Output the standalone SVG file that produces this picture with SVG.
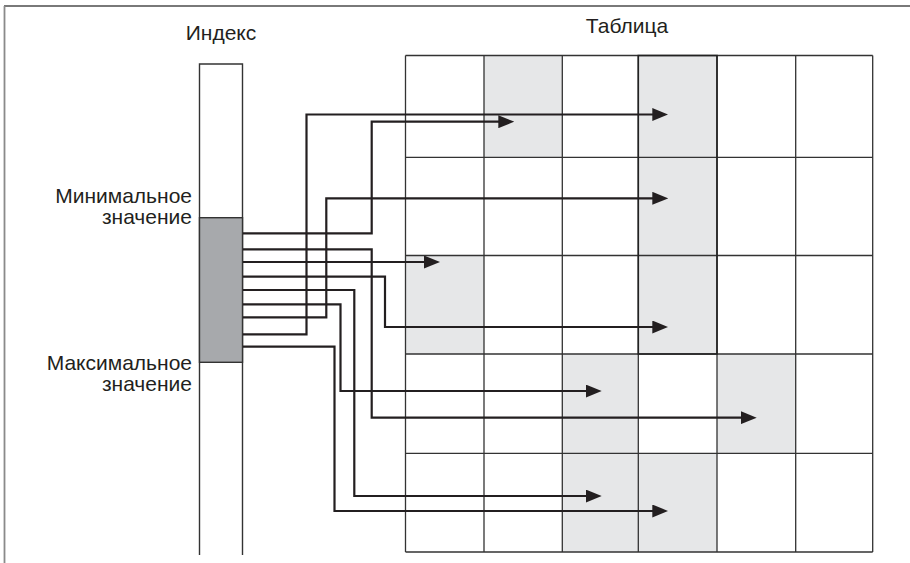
<svg xmlns="http://www.w3.org/2000/svg" width="910" height="563" viewBox="0 0 910 563">
<style>
text{font-family:"Liberation Sans",Arial,sans-serif;font-size:21px;fill:#231f20}
.grid{stroke:#333;stroke-width:1.3;fill:none}
.shade{fill:#e6e7e8}
.conn{fill:none;stroke:#231f20;stroke-width:2.2;stroke-linejoin:miter;stroke-linecap:butt}
</style>
<defs>
<marker id="ah" markerUnits="userSpaceOnUse" markerWidth="16" markerHeight="13" refX="8" refY="6.5" orient="auto">
<path d="M0,0 L16,6.5 L0,13 z" fill="#231f20"/>
</marker>
</defs>
<rect width="910" height="563" fill="#fff"/>
<g id="frame">
<line x1="4" y1="6" x2="910" y2="6" stroke="#4d4d4d" stroke-width="1.5"/>
<line x1="4.5" y1="6" x2="4.5" y2="563" stroke="#8a8a8a" stroke-width="1.8"/>
</g>
<g id="index">
<path d="M199.5,555 V64 H242.5 V555" fill="none" stroke="#333" stroke-width="1.4"/>
<rect id="range" x="199.5" y="217.7" width="43" height="144.6" fill="#a7a9ac" stroke="#333" stroke-width="1.4"/>
<text x="221" y="40" text-anchor="middle">Индекс</text>
</g>
<g id="labels">
<text x="192" y="203" text-anchor="end">Минимальное</text>
<text x="192" y="224" text-anchor="end">значение</text>
<text x="192" y="370" text-anchor="end">Максимальное</text>
<text x="192" y="391" text-anchor="end">значение</text>
</g>
<g id="table">
<text x="627" y="33" text-anchor="middle">Таблица</text>
<rect class="shade" x="484" y="55.5" width="78.3" height="101.8"/>
<rect class="shade" x="638.3" y="55.5" width="78.7" height="298.5"/>
<rect class="shade" x="405.5" y="255.5" width="78.5" height="98.5"/>
<rect class="shade" x="562.3" y="354" width="76" height="198"/>
<rect class="shade" x="717" y="354" width="78.7" height="99.3"/>
<rect class="shade" x="638.3" y="453.3" width="78.7" height="98.7"/>
<path class="grid" d="M405.5,55.5 V552 M484,55.5 V552 M562.3,55.5 V552 M638.3,55.5 V552 M717,55.5 V552 M795.7,55.5 V552 M872.7,55.5 V552 M405.5,55.5 H872.7 M405.5,157.3 H872.7 M405.5,255.5 H872.7 M405.5,354 H872.7 M405.5,453.3 H872.7 M405.5,552 H872.7"/>
<path d="M638.3,55.5 H717 V354 H638.3 Z" fill="none" stroke="#222" stroke-width="1.6"/>
</g>
<g id="connectors">
<path class="conn" marker-end="url(#ah)" d="M243,233.3 H371.7 V121.7 H506.3"/>
<path class="conn" marker-end="url(#ah)" d="M243,249.3 H371.7 V417.7 H748.7"/>
<path class="conn" marker-end="url(#ah)" d="M243,262 H432"/>
<path class="conn" marker-end="url(#ah)" d="M243,276.7 H385 V327 H660.3"/>
<path class="conn" marker-end="url(#ah)" d="M243,290 H354.3 V496 H593.7"/>
<path class="conn" marker-end="url(#ah)" d="M243,304.3 H340.5 V391 H593.7"/>
<path class="conn" marker-end="url(#ah)" d="M243,317.3 H326.3 V198.3 H660.3"/>
<path class="conn" marker-end="url(#ah)" d="M243,334.3 H306.5 V114.5 H660.3"/>
<path class="conn" marker-end="url(#ah)" d="M243,346.7 H334.5 V511 H660.3"/>
</g>
</svg>
